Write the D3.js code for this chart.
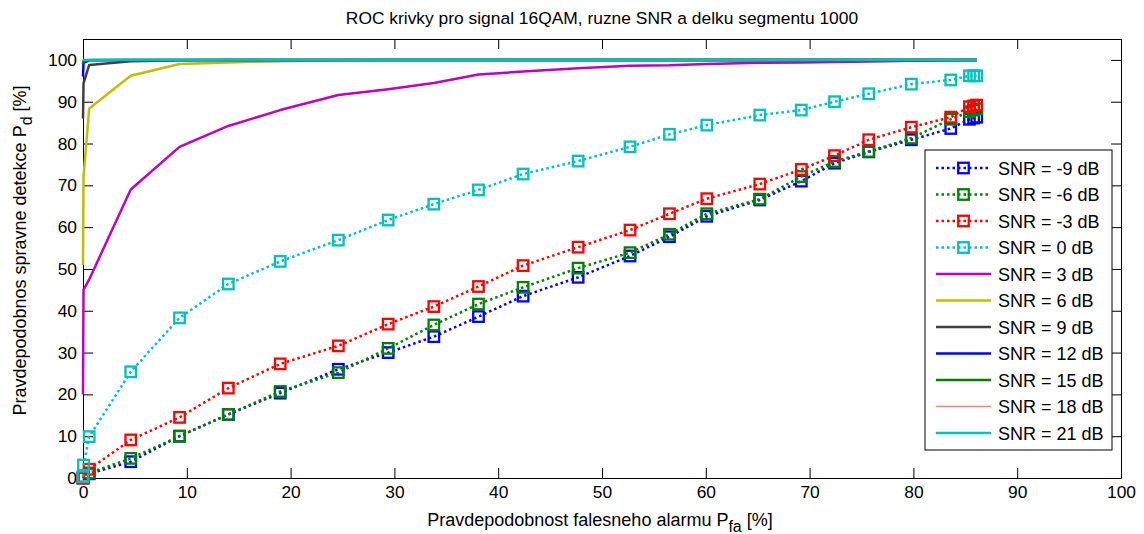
<!DOCTYPE html>
<html>
<head>
<meta charset="utf-8">
<script src="https://cdn.jsdelivr.net/npm/d3@7"></script>
<style>
  html, body { margin: 0; padding: 0; background: #fff; }
  svg { display: block; }
  text { font-family: "Liberation Sans", Arial, sans-serif; fill: #000; }
</style>
</head>
<body>
<svg id="chart" width="1144" height="534"></svg>
<script>
// False-alarm probability [%] for each detection threshold (shared by all SNR curves)
const pfa = [0, 0.05, 0.6, 4.6, 9.3, 14.0, 19.0, 24.6, 29.4, 33.8, 38.1, 42.4, 47.7,
             52.7, 56.5, 60.1, 65.2, 69.2, 72.4, 75.7, 79.8, 83.6, 85.4, 85.8, 86.1];

// Detection probability [%] per SNR
const pdM9 = [0, 0.3, 1.0, 3.9, 10.0, 15.2, 20.3, 26.0, 30.0, 33.8, 38.6, 43.5, 48.0,
              53.1, 57.7, 62.6, 66.5, 71.0, 75.3, 78.0, 80.9, 83.6, 85.8, 86.1, 86.3];
const pdM6 = [0, 0.3, 1.2, 4.7, 10.0, 15.2, 20.7, 25.2, 31.0, 36.6, 41.6, 45.6, 50.2,
              53.9, 58.3, 63.2, 66.7, 72.1, 75.7, 78.1, 81.3, 85.8, 87.6, 88.0, 88.3];
const pdM3 = [0, 0.3, 2.1, 9.1, 14.5, 21.5, 27.3, 31.6, 36.8, 41.0, 45.8, 50.8, 55.2,
              59.3, 63.2, 66.8, 70.3, 73.8, 77.1, 80.9, 83.9, 86.3, 88.8, 89.0, 89.2];
const pd0  = [0.3, 3.1, 9.9, 25.4, 38.3, 46.4, 51.8, 56.9, 61.7, 65.5, 68.9, 72.7, 75.8,
              79.2, 82.2, 84.4, 86.8, 88.0, 90.0, 91.9, 94.2, 95.2, 96.2, 96.2, 96.2];
const pd3  = [20, 45, 47.5, 69.0, 79.2, 84.2, 88.0, 91.6, 93.0, 94.5, 96.5, 97.2, 98.0,
              98.6, 98.7, 99.0, 99.3, 99.4, 99.5, 99.6, 99.8, 99.9, 100, 100, 100];
const pd6  = [51, 72, 88.4, 96.2, 99.0, 99.4, 99.7, 99.9, 99.95, 100, 100, 100, 100,
              100, 100, 100, 100, 100, 100, 100, 100, 100, 100, 100, 100];
const pd9  = [86, 94.4, 98.8, 99.7, 99.9, 99.95, 100, 100, 100, 100, 100, 100, 100,
              100, 100, 100, 100, 100, 100, 100, 100, 100, 100, 100, 100];
const pd12 = [96, 99.3, 99.9, 100, 100, 100, 100, 100, 100, 100, 100, 100, 100,
              100, 100, 100, 100, 100, 100, 100, 100, 100, 100, 100, 100];
const pd15 = [99.0, 99.8, 100, 100, 100, 100, 100, 100, 100, 100, 100, 100, 100,
              100, 100, 100, 100, 100, 100, 100, 100, 100, 100, 100, 100];
const pd18 = [99.8, 100, 100, 100, 100, 100, 100, 100, 100, 100, 100, 100, 100,
              100, 100, 100, 100, 100, 100, 100, 100, 100, 100, 100, 100];
const pd21 = [100, 100, 100, 100, 100, 100, 100, 100, 100, 100, 100, 100, 100,
              100, 100, 100, 100, 100, 100, 100, 100, 100, 100, 100, 100];

const seriesNames = ["SNR = -9 dB", "SNR = -6 dB", "SNR = -3 dB", "SNR = 0 dB",
                     "SNR = 3 dB", "SNR = 6 dB", "SNR = 9 dB", "SNR = 12 dB",
                     "SNR = 15 dB", "SNR = 18 dB", "SNR = 21 dB"];
const seriesValues = [pdM9, pdM6, pdM3, pd0, pd3, pd6, pd9, pd12, pd15, pd18, pd21];
const seriesColors = ["#0000ff", "#008000", "#ff0000", "#00bfbf", "#bf00bf", "#bfbf00",
                      "#404040", "#0000ff", "#008000", "#ff8080", "#00bfbf"];
const seriesDotted = [true, true, true, true, false, false, false, false, false, false, false];
const seriesWidth  = [2.5, 2.5, 2.5, 2.5, 2.5, 2.5, 2.5, 2.5, 2.5, 1.5, 2.5];

const xTicks = [0, 10, 20, 30, 40, 50, 60, 70, 80, 90, 100];
const yTicks = [0, 10, 20, 30, 40, 50, 60, 70, 80, 90, 100];

const titleText = "ROC krivky pro signal 16QAM, ruzne SNR a delku segmentu 1000";

const W = 1144, H = 534;
const plot = { left: 83, right: 1121, top: 39, bottom: 478 };
const TICK_FONT = 17.4;
const LABEL_FONT = 18;

const svg = d3.select("#chart");

const x = d3.scaleLinear().domain([0, 100]).range([plot.left, plot.right]);
const y = d3.scaleLinear().domain([0, 105]).range([plot.bottom, plot.top]);

svg.append("rect").attr("width", W).attr("height", H).attr("fill", "#fff");

// Axes: ticks pointing inwards on all four sides
const tickLen = 10;
function styleAxis(g) {
  g.select(".domain").attr("stroke", "#000").attr("stroke-width", 1);
  g.selectAll(".tick line").attr("stroke", "#000").attr("stroke-width", 1);
  g.selectAll(".tick text").attr("font-size", TICK_FONT)
    .attr("font-family", "Liberation Sans, Arial, sans-serif").attr("fill", "#000");
}

svg.append("g").attr("transform", `translate(0,${plot.bottom})`)
  .call(d3.axisBottom(x).tickValues(xTicks).tickSizeInner(-tickLen).tickSizeOuter(0).tickPadding(8))
  .call(styleAxis);
svg.append("g").attr("transform", `translate(0,${plot.top})`)
  .call(d3.axisTop(x).tickValues(xTicks).tickSizeInner(-tickLen).tickSizeOuter(0).tickFormat(""))
  .call(styleAxis);
svg.append("g").attr("transform", `translate(${plot.left},0)`)
  .call(d3.axisLeft(y).tickValues(yTicks).tickSizeInner(-tickLen).tickSizeOuter(0).tickPadding(6))
  .call(styleAxis);
svg.append("g").attr("transform", `translate(${plot.right},0)`)
  .call(d3.axisRight(y).tickValues(yTicks).tickSizeInner(-tickLen).tickSizeOuter(0).tickFormat(""))
  .call(styleAxis);

// Curves
const line = d3.line().x(d => x(d[0])).y(d => y(d[1]));
const curves = svg.append("g");
const markerSize = 10.5;

seriesValues.forEach((vals, i) => {
  const pts = vals.map((v, k) => [pfa[k], v]);
  curves.append("path")
    .attr("d", line(pts))
    .attr("fill", "none")
    .attr("stroke", seriesColors[i])
    .attr("stroke-width", seriesWidth[i])
    .attr("stroke-linejoin", "round")
    .attr("stroke-dasharray", seriesDotted[i] ? "2.5,3" : null);
  if (seriesDotted[i]) {
    curves.append("g").selectAll("rect").data(pts).join("rect")
      .attr("x", d => x(d[0]) - markerSize / 2)
      .attr("y", d => y(d[1]) - markerSize / 2)
      .attr("width", markerSize).attr("height", markerSize)
      .attr("fill", "none")
      .attr("stroke", seriesColors[i])
      .attr("stroke-width", 2.3);
  }
});

// Title and axis labels
svg.append("text")
  .attr("x", (plot.left + plot.right) / 2).attr("y", 24)
  .attr("text-anchor", "middle").attr("font-size", TICK_FONT)
  .text(titleText);

const xl = svg.append("text")
  .attr("x", (plot.left + plot.right) / 2 - 2).attr("y", 526)
  .attr("text-anchor", "middle").attr("font-size", LABEL_FONT);
xl.append("tspan").text("Pravdepodobnost falesneho alarmu P");
xl.append("tspan").attr("dy", 6).attr("font-size", 16).text("fa");
xl.append("tspan").attr("dy", -6).text(" [%]");

const yl = svg.append("text")
  .attr("transform", `translate(26,${(plot.top + plot.bottom) / 2 - 8}) rotate(-90)`)
  .attr("text-anchor", "middle").attr("font-size", LABEL_FONT);
yl.append("tspan").text("Pravdepodobnos spravne detekce P");
yl.append("tspan").attr("dy", 6).attr("font-size", 16).text("d");
yl.append("tspan").attr("dy", -6).text(" [%]");

// Legend
const leg = { x: 925, y: 150, w: 187, h: 300, row0: 168, step: 26.5 };
const lg = svg.append("g");
lg.append("rect")
  .attr("x", leg.x).attr("y", leg.y).attr("width", leg.w).attr("height", leg.h)
  .attr("fill", "#fff").attr("stroke", "#000").attr("stroke-width", 1);
seriesNames.forEach((name, i) => {
  const cy = leg.row0 + i * leg.step;
  lg.append("line")
    .attr("x1", 936).attr("x2", 991).attr("y1", cy).attr("y2", cy)
    .attr("stroke", seriesColors[i]).attr("stroke-width", seriesWidth[i])
    .attr("stroke-dasharray", seriesDotted[i] ? "2.5,3" : null);
  if (seriesDotted[i]) {
    lg.append("rect")
      .attr("x", 963.5 - markerSize / 2).attr("y", cy - markerSize / 2)
      .attr("width", markerSize).attr("height", markerSize)
      .attr("fill", "none").attr("stroke", seriesColors[i]).attr("stroke-width", 2.3);
  }
  lg.append("text").attr("x", 998).attr("y", cy + 6.5)
    .attr("font-size", LABEL_FONT).text(name);
});
</script>
</body>
</html>
